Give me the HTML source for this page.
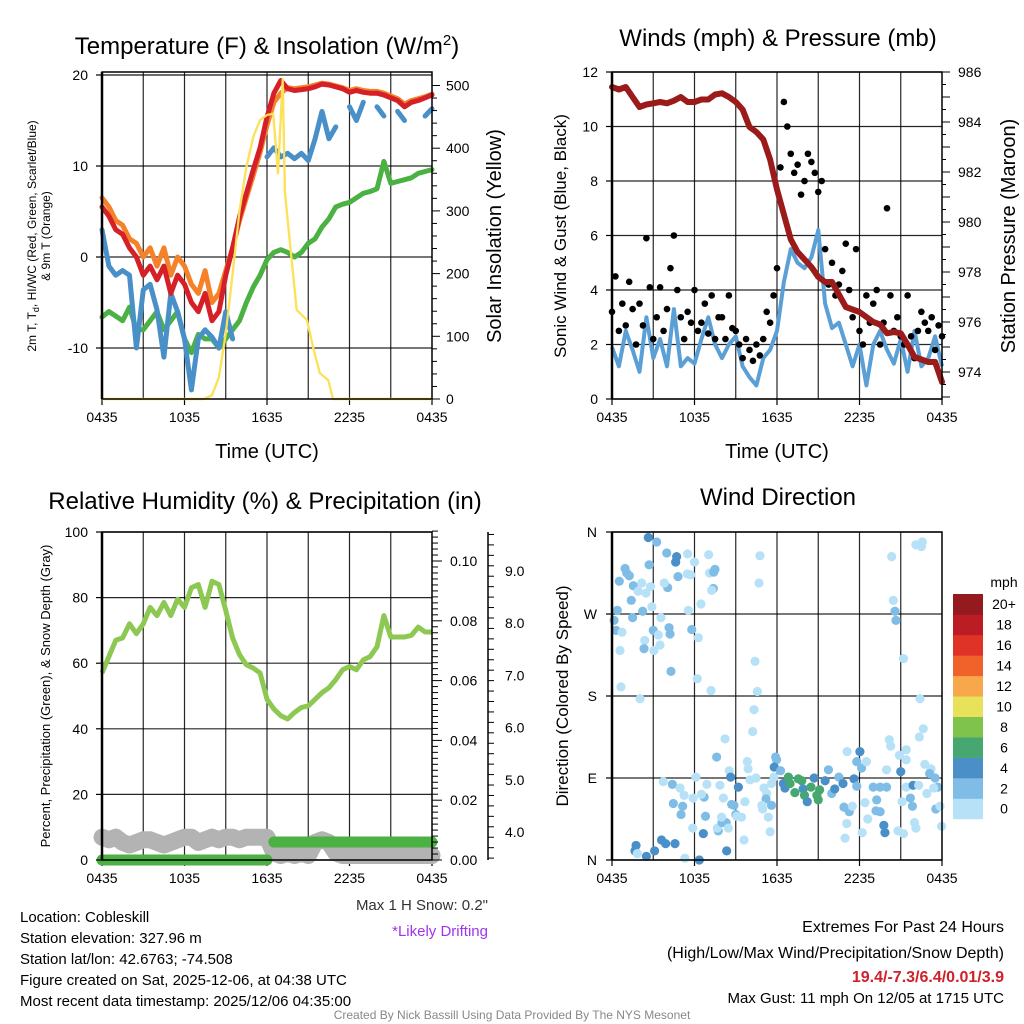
<!DOCTYPE html>
<html><head><meta charset="utf-8"><style>
html,body{margin:0;padding:0;background:#fff;}
svg{display:block;font-family:"Liberation Sans",sans-serif;}
</style></head><body>
<svg id="fig" width="1024" height="1024" viewBox="0 0 1024 1024" xmlns="http://www.w3.org/2000/svg">
<rect width="1024" height="1024" fill="#fff"/>
<text x="267" y="54" font-size="24" text-anchor="middle">Temperature (F) &amp; Insolation (W/m<tspan dy="-9" font-size="15">2</tspan><tspan dy="9">)</tspan></text>
<text x="778" y="46" font-size="24" text-anchor="middle">Winds (mph) &amp; Pressure (mb)</text>
<text x="265" y="509" font-size="24" text-anchor="middle">Relative Humidity (%) &amp; Precipitation (in)</text>
<text x="778" y="505" font-size="24" text-anchor="middle">Wind Direction</text>
<text x="267" y="458" font-size="20" text-anchor="middle">Time (UTC)</text>
<text x="777" y="458" font-size="20" text-anchor="middle">Time (UTC)</text>
<text transform="translate(36,236) rotate(-90)" font-size="12" text-anchor="middle">2m T, T<tspan dy="3" font-size="9">d</tspan><tspan dy="-3">, HI/WC (Red, Green, Scarlet/Blue)</tspan></text>
<text transform="translate(50,236) rotate(-90)" font-size="12" text-anchor="middle">&amp; 9m T (Orange)</text>
<text transform="translate(501,236) rotate(-90)" font-size="20" text-anchor="middle">Solar Insolation (Yellow)</text>
<text transform="translate(566,236) rotate(-90)" font-size="17" text-anchor="middle">Sonic Wind &amp; Gust (Blue, Black)</text>
<text transform="translate(1015,236) rotate(-90)" font-size="20" text-anchor="middle">Station Pressure (Maroon)</text>
<text transform="translate(50,696) rotate(-90)" font-size="13" text-anchor="middle">Percent, Precipitation (Green), &amp; Snow Depth (Gray)</text>
<text transform="translate(568,696) rotate(-90)" font-size="17" text-anchor="middle">Direction (Colored By Speed)</text>
<g font-size="15">
<text x="20" y="922">Location: Cobleskill</text>
<text x="20" y="943">Station elevation: 327.96 m</text>
<text x="20" y="964">Station lat/lon: 42.6763; -74.508</text>
<text x="20" y="985">Figure created on Sat, 2025-12-06, at 04:38 UTC</text>
<text x="20" y="1006">Most recent data timestamp: 2025/12/06 04:35:00</text>
</g>
<text x="488" y="910" font-size="15" text-anchor="end" fill="#333">Max 1 H Snow: 0.2"</text>
<text x="488" y="936" font-size="15" text-anchor="end" fill="#a033f0">*Likely Drifting</text>
<text x="1004" y="932" font-size="16" text-anchor="end">Extremes For Past 24 Hours</text>
<text x="1004" y="958" font-size="16" text-anchor="end">(High/Low/Max Wind/Precipitation/Snow Depth)</text>
<text x="1004" y="982" font-size="16" font-weight="bold" text-anchor="end" fill="#d0202a">19.4/-7.3/6.4/0.01/3.9</text>
<text x="1004" y="1003" font-size="15" text-anchor="end">Max Gust: 11 mph On 12/05 at 1715 UTC</text>
<text x="512" y="1019" font-size="12" text-anchor="middle" fill="#888">Created By Nick Bassill Using Data Provided By The NYS Mesonet</text>
</svg>
<script>
const xTickLabels = ["0435","1035","1635","2235","0435"];
const tempTicks = [-10,0,10,20];
const solarTicks = [0,100,200,300,400,500];
const windTicks = [0,2,4,6,8,10,12];
const presTicks = [974,976,978,980,982,984,986];
const rhTicks = [0,20,40,60,80,100];
const precipTicks = [0.00,0.02,0.04,0.06,0.08,0.10];
const snowTicks = [4.0,5.0,6.0,7.0,8.0,9.0];
const dirLabels = ["N","E","S","W","N"];
const speedBins = ["0","2","4","6","8","10","12","14","16","18","20+"];
const speedColors = ["#b6e1f7","#7fbde6","#4a8fc8","#46a770","#80c34c","#e8e25a","#f8a84a","#f1622a","#df3328","#bc1d24","#941a1d"];

const tempRed = [5.5,4.5,3,2.5,1,0,-2,-1,-2.5,-1,-4,-2,-3,-5,-6,-4,-7,-6,-2,1,4.4,7,9.6,12,15.4,18,19.4,18.5,18.3,18.4,18.5,18.7,19,18.9,18.7,18.5,18.1,18.3,18.1,18,18,17.8,17.5,17.2,16.5,17,17.2,17.5,17.8];
const tempOrange = [6.5,5.5,4,3.5,2,1.5,0,1,-1,1,-2,0,-1,-3,-4,-1.5,-5,-4,-1.5,1,4,6.5,9,11.5,14.5,17,18,18.6,18.5,18.6,18.7,18.9,19.1,19,18.8,18.6,18.3,18.5,18.3,18.2,18.2,18,17.7,17.4,16.8,17.2,17.4,17.6,17.9];
const tempBlue = [3,-1,-2,-1.5,-2,-10,-3.6,-3,-5.8,-11,-4,-6,-9,-14.6,-9,-8,-8.8,-10,-6,-9,null,null,null,null,11,12,11,11.4,10.8,11.4,10.6,13,16,13,14.3,null,16.5,15,17,null,16.5,15.5,null,16,15,null,null,15.5,16.3];
const tempGreen = [-6.6,-6,-6.5,-7,-5.5,-8,-8,-7,-6,-8,-7,-6,-9,-10.5,-8.5,-9,-9,-10,-9,-8,-7,-5,-3.3,-2,-0.3,0.5,0.8,0.5,0,0.5,1.5,2,3.3,4.2,5.5,5.8,6,6.5,7,7.2,7.5,10.5,8.1,8.3,8.5,8.7,9.2,9.4,9.6];
const solarHours = [0,7.4,8,8.5,9,9.5,10,10.5,11,11.5,12,12.45,12.8,13.14,13.3,13.67,14.16,14.9,15.4,15.85,16.46,16.8,24];
const solarValues = [0,0,6,35,105,200,300,370,418,445,453,455,360,510,330,248,142,126,78,41,30,0,0];

const windSpeed = [1.9,1.2,2.5,1.8,1.0,3.0,1.5,2.2,1.2,3.3,1.2,1.5,1.3,2.2,3.0,2.0,1.5,2.0,2.3,1.2,0.8,0.5,1.5,1.8,2.5,4.3,5.5,5.0,4.8,5.2,6.2,3.5,2.6,2.8,2.0,1.2,2.0,0.5,2.0,2.5,1.8,1.3,2.2,1.0,2.5,1.2,1.5,2.3,1.2];
const pressure = [985.4,985.3,985.4,985.0,984.6,984.7,984.75,984.8,984.75,984.85,985.0,984.8,984.8,984.9,984.9,985.1,985.15,985.0,984.8,984.5,983.8,983.6,983.3,982.5,981.3,980.3,979.3,978.8,978.5,978.2,977.8,977.6,977.6,977.1,976.6,976.5,976.4,976.2,976.0,975.9,975.55,975.6,975.55,975.1,974.6,974.5,974.4,974.4,973.6];
const gusts = [3.2,4.5,2.5,3.5, 2.7,4.3,3.3,2.0, 3.5,2.7,5.9,4.1, 2.2,3.0,4.1,2.5, 3.3,4.8,6.0,4.0, 3.0,2.2,3.2,2.8, 4.0,2.5,2.8,3.5, 2.4,3.8,2.2,3.0, 3.0,2.2,3.8,2.6, 2.5,2.0,1.5,2.2, 1.8,1.4,2.0,1.6, 2.2,3.2,2.8,3.8, 4.8,8.5,10.9,10.0, 9.0,8.3,8.6,7.5, 8.0,9.0,8.7,8.3, 7.6,8.0,5.5,4.2, 5.0,3.8,4.2,4.7, 5.7,4.0,3.0,5.5, 2.5,2.0,3.8,2.8, 3.5,4.0,2.0,2.8, 7.0,3.8,2.5,3.0, 2.3,2.0,3.8,2.3, 1.5,2.5,3.2,2.8, 2.5,3.0,1.8,2.7,2.3];

const relHum = [57,62,67,67.7,72,69,72,77,74.5,78.5,74.5,79.5,77,83,84,77,85,84,76,67.7,62.6,59.5,58.5,57,49,46,44,43,45,46.5,47,49,51,52.5,55,58,59,58,61,62,65,74.5,68,68,68,68.5,71,69.5,69.5];
const precip = [0,0,0,0,0,0,0,0,0,0,0,0,0,0,0,0,0,0,0,0,0,0,0,0,0,0.006,0.006,0.006,0.006,0.006,0.006,0.006,0.006,0.006,0.006,0.006,0.006,0.006,0.006,0.006,0.006,0.006,0.006,0.006,0.006,0.006,0.006,0.006,0.006];
const snowDepth = [3.9,3.85,3.9,3.8,3.75,3.8,3.85,3.85,3.8,3.75,3.8,3.85,3.9,3.9,3.8,3.85,3.9,3.85,3.9,3.9,3.85,3.9,3.9,3.9,3.9,3.6,3.55,3.6,3.55,3.6,3.55,3.8,3.85,3.8,3.6,3.55,3.55,3.55,3.55,3.55,3.55,3.55,3.55,3.55,3.55,3.55,3.55,3.55,3.55];

const dirHours = [2.64,3.25,3.98,4.7,4.63,5.5,7.03,6.0,2.7,0.95,1.07,1.26,0.53,1.55,2.16,2.8,1.9,2.47,4.05,3.8,4.8,5.48,5.72,7.1,7.49,7.4,7.37,7.25,1.4,2.9,6.47,5.55,0.39,2.23,1.5,3.56,0.15,0.29,0.73,3.0,4.15,4.22,3.37,5.8,6.28,2.38,3.49,2.33,3.05,0.58,4.29,6.2,0.65,7.2,2.04,
10.76,10.69,10.4,10.57,10.33,10.23,8.22,7.61,
22.1,22.57,22.5,20.34,20.46,20.58,20.65,21.2,22.4,22.64,22.35,20.17,20.27,21.4,
3.73,4.39,4.95,5.24,4.46,5.14,5.02,5.9,6.1,6.7,6.9,6.5,6.8,5.87,6.64,7.73,7.66,8.0,8.3,8.46,7.97,8.1,7.85,8.53,8.63,9.19,8.7,8.87,9.0,9.42,9.07,9.67,9.84,9.9,10.04,10.47,11.05,11.25,11.2,11.6,10.9,10.96,11.37,11.5,9.6,8.34,1.75,1.67,1.84,2.5,3.1,3.6,3.9,4.58,5.3,6.35,11.6,11.78,11.9,11.97,11.8,12.26,
12.46,12.58,12.83,12.95,13.3,13.55,13.8,13.9,14.0,14.2,14.47,14.7,14.9,15.0,15.1,15.5,15.74,15.98,16.2,16.5,16.8,16.87,17.26,17.48,17.07,16.95,17.1,17.8,18.03,18.15,17.6,17.8,18.5,18.4,18.6,18.2,19.0,19.25,19.2,19.5,19.5,19.97,19.77,19.85,19.97,20.9,21.0,21.4,21.4,21.1,20.8,21.2,21.7,21.85,21.9,22.0,22.1,22.3,22.75,22.9,23.2,23.1,23.5,23.7,23.55,23.85,23.97,23.4];
const dirDegrees = [354,349,337,333,327,336,335,327,324,320,315,312,306,301,304,300,295,293,299,304,311,314,313,315,319,316,298,296,285,278,281,274,274,273,266,266,263,252,250,252,255,248,247,253,244,241,236,232,230,230,207,199,190,186,177,
334,304,218,185,165,141,133,113,
346,349,344,333,285,273,263,221,177,144,135,132,125,121,
86,83,79,71,62,59,50,68,91,69,83,72,48,35,29,32,35,41,41,35,47,68,82,98,91,80,61,60,50,47,48,64,108,100,88,90,79,73,67,60,60,56,47,31,22,10,16,10,7,4,10,22,18,18,2,0,84,91,113,110,102,98,
84,79,91,84,74,89,87,78,71,64,80,90,71,66,77,87,99,73,78,91,84,58,53,59,40,24,119,108,119,101,89,81,108,63,45,30,80,66,54,53,80,80,38,30,99,115,97,110,80,64,32,29,68,59,82,41,35,82,105,73,100,95,90,80,56,59,37,79];
const dirSpeeds = [5,3,3,5,5,1,1,1,3,3,3,3,3,3,1,1,1,1,3,1,3,1,1,1,3,3,3,1,3,1,1,1,3,3,3,1,3,3,1,3,3,3,1,3,1,1,1,3,1,1,3,1,1,1,1,
1,1,1,1,1,1,1,3,
1,1,1,1,1,3,3,1,1,1,1,1,1,1,
1,3,1,1,3,3,3,1,1,3,1,1,3,1,5,3,1,3,3,1,1,1,1,1,5,5,3,3,3,1,1,1,1,1,1,1,1,1,3,3,1,1,1,1,1,5,5,5,1,5,5,5,5,5,1,5,1,1,3,3,5,3,
5,5,7,7,7,7,7,5,7,5,7,5,7,7,7,5,3,3,5,3,5,3,3,1,1,1,1,3,5,3,5,3,1,1,1,1,3,3,3,3,3,3,5,5,1,1,5,1,1,1,1,1,3,3,5,1,1,1,1,1,1,3,3,3,3,1,1,1];

const NS = "http://www.w3.org/2000/svg";
const svg = document.getElementById('fig');
function mk(tag, attrs, parent, name) {
  const el = document.createElementNS(NS, tag);
  for (const k in attrs) el.setAttribute(k, attrs[k]);
  
  
  (parent || svg).appendChild(el);
  return el;
}
function txt(x, y, s, size, anchor, name, fill) {
  const t = mk('text', {x: x, y: y, 'font-size': size, 'text-anchor': anchor, fill: fill || '#000'}, svg, name);
  t.textContent = s;
  return t;
}
const HPX = 13.75;
function pathFrom(xs, ys) {
  let d = '', pen = false;
  for (let i = 0; i < xs.length; i++) {
    if (ys[i] === null || ys[i] === undefined) { pen = false; continue; }
    d += (pen ? 'L' : 'M') + xs[i].toFixed(1) + ' ' + ys[i].toFixed(1);
    pen = true;
  }
  return d;
}
function panelGrid(x0, y0, x1, y1, hYs, prefix) {
  const g = mk('g', {}, svg, prefix + '-grid');
  for (let h = 3; h < 24; h += 3) {
    const x = x0 + h * HPX;
    mk('line', {x1: x, y1: y0, x2: x, y2: y1, stroke: '#000', 'stroke-width': 1.2, 'stroke-opacity': 0.85}, g, prefix + '-vgrid');
  }
  hYs.forEach(y => mk('line', {x1: x0, y1: y, x2: x1, y2: y, stroke: '#000', 'stroke-width': 1.2, 'stroke-opacity': 0.85}, g, prefix + '-hgrid'));
  for (let k = 0; k < 5; k++) {
    const x = x0 + k * 6 * HPX;
    mk('line', {x1: x, y1: y1, x2: x, y2: y1 + 6, stroke: '#000', 'stroke-width': 1.2}, g, prefix + '-xtick');
    txt(x, y1 + 23, xTickLabels[k], 14, 'middle', prefix + '-xtick-label');
  }
}
function frame(x0, y0, x1, y1, prefix) {
  mk('rect', {x: x0, y: y0, width: x1 - x0, height: y1 - y0, fill: 'none', stroke: '#000', 'stroke-width': 1.5}, svg, prefix + '-frame');
  mk('line', {x1: x0, y1: y0, x2: x0, y2: y1, stroke: '#000', 'stroke-width': 2.5}, svg, prefix + '-left-axis');
}

// Panel 1
const tX = h => 102 + h * HPX;
const tY = v => 257 - v * 9.1;
const sY = v => 399 - v * 0.627;
panelGrid(102, 72, 432, 399, tempTicks.map(tY), 'temp');
const half = tempRed.map((_, i) => tX(i / 2));
mk('path', {d: pathFrom(solarHours.map(tX), solarValues.map(sY)), fill: 'none', stroke: '#fce15a', 'stroke-width': 2.2, 'stroke-linejoin': 'round'}, svg, 'solar-line');
mk('path', {d: pathFrom(half, tempGreen.map(tY)), fill: 'none', stroke: '#4bb143', 'stroke-width': 5, 'stroke-linejoin': 'round', 'stroke-linecap': 'round'}, svg, 'dewpoint-line');
mk('path', {d: pathFrom(half, tempBlue.map(v => v === null ? null : tY(v))), fill: 'none', stroke: '#4a90c8', 'stroke-width': 5, 'stroke-linejoin': 'round', 'stroke-linecap': 'round'}, svg, 'wind-chill-line');
mk('path', {d: pathFrom(half, tempOrange.map(tY)), fill: 'none', stroke: '#f5822a', 'stroke-width': 5, 'stroke-linejoin': 'round', 'stroke-linecap': 'round'}, svg, 'temp-9m-line');
mk('path', {d: pathFrom(half, tempRed.map(tY)), fill: 'none', stroke: '#d62027', 'stroke-width': 5, 'stroke-linejoin': 'round', 'stroke-linecap': 'round'}, svg, 'temp-2m-line');
mk('path', {d: pathFrom(solarHours.map(tX), solarValues.map(sY)), fill: 'none', stroke: '#fce15a', 'stroke-width': 2.2, 'stroke-linejoin': 'round'}, svg, 'solar-line-top');
frame(102, 72, 432, 399, 'temp');
mk('line', {x1: 102, y1: 75, x2: 432, y2: 75, stroke: '#000', 'stroke-width': 1, 'stroke-opacity': 0.6}, svg, 'temp-top-gridline');
tempTicks.forEach(v => {
  mk('line', {x1: 96, y1: tY(v), x2: 102, y2: tY(v), stroke: '#000', 'stroke-width': 1.2}, svg, 'temp-ytick');
  txt(88, tY(v) + 5, String(v), 14, 'end', 'temp-ytick-label');
});
for (let k = 0; k <= 25; k++) {
  const y = sY(k * 20);
  mk('line', {x1: 432, y1: y, x2: k % 5 === 0 ? 440 : 437, y2: y, stroke: '#000', 'stroke-width': 1}, svg, 'solar-minor-tick');
}
solarTicks.forEach(v => txt(446, sY(v) + 5, String(v), 14, 'start', 'solar-ytick-label'));

// Panel 2
const wX = h => 612 + h * HPX;
const wY = v => 399 - v * 27.25;
const pY = v => 72 + (986 - v) * 25;
panelGrid(612, 72, 942, 399, windTicks.map(wY), 'wind');
mk('path', {d: pathFrom(windSpeed.map((_, i) => wX(i / 2)), windSpeed.map(wY)), fill: 'none', stroke: '#5a9fd6', 'stroke-width': 4, 'stroke-linejoin': 'round'}, svg, 'wind-speed-line');
gusts.forEach((g, i) => {
  mk('circle', {cx: wX(i / 4), cy: wY(g), r: 3.3, fill: '#000'}, svg, 'gust-point');
});
mk('path', {d: pathFrom(pressure.map((_, i) => wX(i / 2)), pressure.map(pY)), fill: 'none', stroke: '#9b1b1b', 'stroke-width': 6, 'stroke-linejoin': 'round', 'stroke-linecap': 'round'}, svg, 'pressure-line');
frame(612, 72, 942, 399, 'wind');
windTicks.forEach(v => {
  mk('line', {x1: 606, y1: wY(v), x2: 612, y2: wY(v), stroke: '#000', 'stroke-width': 1.2}, svg, 'wind-ytick');
  txt(598, wY(v) + 5, String(v), 14, 'end', 'wind-ytick-label');
});
for (let k = 0; k <= 26; k++) {
  const y = pY(973 + k * 0.5);
  if (y > 399) continue;
  mk('line', {x1: 942, y1: y, x2: k % 2 === 0 ? 950 : 946, y2: y, stroke: '#000', 'stroke-width': 1}, svg, 'pressure-minor-tick');
}
presTicks.forEach(v => txt(958, pY(v) + 5, String(v), 14, 'start', 'pressure-ytick-label'));

// Panel 3
const rX = h => 102 + h * HPX;
const rY = v => 860 - v * 3.28;
const prY = v => 860 - v * 2990;
const snY = v => 832 - (v - 4) * 52.2;
panelGrid(102, 532, 432, 860, rhTicks.map(rY), 'rh');
mk('path', {d: pathFrom(relHum.map((_, i) => rX(i / 2)), relHum.map(rY)), fill: 'none', stroke: '#8dc852', 'stroke-width': 5, 'stroke-linejoin': 'round'}, svg, 'rh-line');
mk('path', {d: pathFrom(snowDepth.map((_, i) => rX(i / 2)), snowDepth.map(snY)), fill: 'none', stroke: '#b3b3b3', 'stroke-width': 17, 'stroke-linejoin': 'round', 'stroke-linecap': 'round'}, svg, 'snow-depth-line');
(function () {
  let d = '';
  for (let i = 0; i < precip.length; i++) {
    const x = rX(i / 2), y = prY(precip[i]);
    if (i === 0 || precip[i] !== precip[i - 1]) d += 'M' + x + ' ' + y;
    else d += 'L' + x + ' ' + y;
  }
  mk('path', {d: d, fill: 'none', stroke: '#4bb143', 'stroke-width': 11, 'stroke-linecap': 'round'}, svg, 'precip-line');
})();
frame(102, 532, 432, 860, 'rh');
rhTicks.forEach(v => {
  mk('line', {x1: 96, y1: rY(v), x2: 102, y2: rY(v), stroke: '#000', 'stroke-width': 1.2}, svg, 'rh-ytick');
  txt(88, rY(v) + 5, String(v), 14, 'end', 'rh-ytick-label');
});
for (let k = 0; k <= 55; k++) {
  const y = prY(k * 0.002);
  mk('line', {x1: 432, y1: y, x2: k % 10 === 0 ? 442 : 438, y2: y, stroke: '#000', 'stroke-width': 1}, svg, 'precip-minor-tick');
}
precipTicks.forEach(v => txt(450, prY(v) + 5, v.toFixed(2), 14, 'start', 'precip-ytick-label'));
mk('line', {x1: 488, y1: 532, x2: 488, y2: 860, stroke: '#000', 'stroke-width': 1.5}, svg, 'snow-axis');
for (let k = 0; k <= 31; k++) {
  const y = snY(3.5 + k * 0.2);
  if (y < 533) continue;
  mk('line', {x1: 488, y1: y, x2: 494, y2: y, stroke: '#000', 'stroke-width': 1}, svg, 'snow-minor-tick');
}
snowTicks.forEach(v => txt(505, snY(v) + 5, v.toFixed(1), 14, 'start', 'snow-ytick-label'));

// Panel 4
const dX = h => 612 + h * HPX;
const dY = v => 860 - v * 328 / 360;
panelGrid(612, 532, 942, 860, [0, 90, 180, 270, 360].map(dY), 'dir');
function speedColor(s) { return speedColors[Math.min(10, Math.floor(s / 2))]; }
dirHours.forEach((h, i) => {
  mk('circle', {cx: dX(h), cy: dY(dirDegrees[i]), r: 4.6, fill: speedColor(dirSpeeds[i])}, svg, 'direction-point');
});
frame(612, 532, 942, 860, 'dir');
dirLabels.forEach((s, k) => {
  const y = dY(k * 90);
  mk('line', {x1: 606, y1: y, x2: 612, y2: y, stroke: '#000', 'stroke-width': 1.2}, svg, 'dir-ytick');
  txt(597, y + 5, s, 14, 'end', 'dir-ytick-label');
});
txt(1004, 587, 'mph', 14, 'middle', 'colorbar-title');
const cbH = 20.45;
speedBins.forEach((lab, k) => {
  const y = 594 + (10 - k) * cbH;
  mk('rect', {x: 953, y: y, width: 30, height: cbH + 0.3, fill: speedColors[k]}, svg, 'colorbar-bin');
  txt(1004, y + cbH / 2 + 5, lab, 14, 'middle', 'colorbar-label');
});
</script>
</body></html>
